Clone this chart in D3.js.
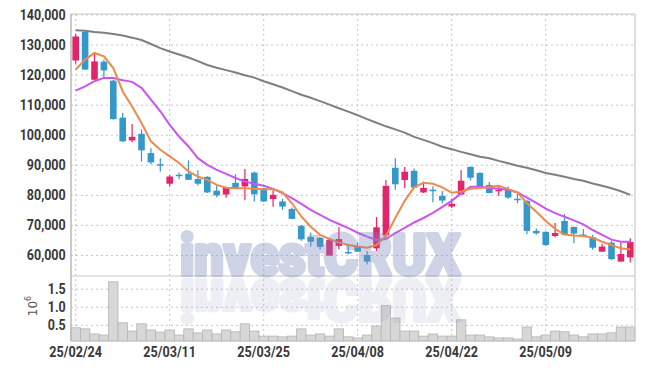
<!DOCTYPE html>
<html>
<head>
<meta charset="utf-8">
<script src="https://cdn.jsdelivr.net/npm/d3@7.9.0/dist/d3.min.js"></script>
<style>
  html, body { margin: 0; padding: 0; background: #fff; }
  svg { display: block; }
  .axis text { font-family: "Roboto", sans-serif; font-weight: bold; fill: #383838; }
</style>
</head>
<body>
<svg id="chart" width="645" height="370"></svg>
<script>
// trading days shown on the chart
const dates = [
  "25/02/24","25/02/25","25/02/26","25/02/27","25/02/28","25/03/04","25/03/05","25/03/06","25/03/07","25/03/10",
  "25/03/11","25/03/12","25/03/13","25/03/14","25/03/17","25/03/18","25/03/19","25/03/20","25/03/21","25/03/24",
  "25/03/25","25/03/26","25/03/27","25/03/28","25/03/31","25/04/01","25/04/02","25/04/03","25/04/04","25/04/07",
  "25/04/08","25/04/09","25/04/10","25/04/11","25/04/14","25/04/15","25/04/16","25/04/17","25/04/18","25/04/21",
  "25/04/22","25/04/23","25/04/24","25/04/25","25/04/28","25/04/29","25/04/30","25/05/02","25/05/07","25/05/08",
  "25/05/09","25/05/12","25/05/13","25/05/14","25/05/15","25/05/16","25/05/19","25/05/20","25/05/21","25/05/22"
];
const tickDates = ["25/02/24","25/03/11","25/03/25","25/04/08","25/04/22","25/05/09"];

const opens = [124700,134200,118300,124300,118000,105700,98100,100300,93900,90200,
  83700,86700,87000,85300,86000,81400,80100,84000,82800,87400,
  82200,78600,77800,75300,69700,66000,65700,59800,63000,61000,
  62900,60000,62200,66500,89000,84900,88000,80800,81700,79700,
  76100,80100,89300,87300,83300,81200,81900,78700,78000,68000,
  67700,66300,71300,69300,66800,65900,61100,64100,57800,59200];
const highs = [133600,134500,127200,125000,118300,107200,103600,101800,95500,92200,
  86500,87400,91500,88200,86200,83300,82700,86900,88600,87800,
  82400,81500,78700,75800,70000,67500,66000,65300,69200,63000,
  64200,61300,72600,84900,92200,89300,88800,84400,82800,81300,
  78700,88200,89500,87500,84300,83200,82800,80200,78200,68800,
  67800,70600,73600,69500,68600,66700,63700,64800,64100,65600];
const lows = [123600,121500,118200,118800,105000,97600,97500,91100,90200,87800,
  82800,85200,84900,83000,80600,79200,79000,82000,78200,77800,
  77600,76000,75000,71900,64700,62800,61800,59700,61900,60200,
  61000,56800,61300,66300,81700,82300,82300,80600,77500,77200,
  75600,80000,84800,82700,80500,79700,78600,77200,66900,66700,
  63000,65900,66600,63900,65900,61700,61000,58300,57700,57500];
const closes = [132700,121700,124400,121400,105200,97800,99300,94800,90800,89700,
  86100,86200,85000,83700,80800,79800,82300,82100,85300,80200,
  77800,80000,76100,72000,65200,64400,62700,65000,65300,60700,
  61100,57800,69200,83000,83500,87700,82400,82300,81200,78100,
  77000,84700,85700,82800,80600,81700,79100,78400,68000,67200,
  63300,67300,66700,67100,66600,62400,62800,58600,60300,64300];
const volumes = [420000,390000,250000,220000,1690000,560000,330000,530000,360000,300000,
  360000,220000,390000,280000,360000,250000,360000,310000,530000,330000,
  190000,190000,170000,190000,390000,220000,250000,190000,390000,170000,
  140000,220000,470000,1030000,690000,330000,330000,190000,250000,190000,
  190000,640000,220000,220000,170000,140000,140000,110000,440000,170000,
  220000,330000,310000,220000,170000,250000,250000,280000,440000,440000];

// moving averages
const ma5 = [121700,125000,127200,126100,122200,114400,109400,103900,97800,95000,
  92800,90600,87800,86100,85000,83300,82400,82200,82200,82000,
  81900,81900,80800,77200,72800,69400,66700,65300,64100,63300,
  62800,62400,63300,66300,72300,78000,82500,84000,83700,82500,
  80700,81100,82000,82300,82600,83000,81900,80800,77200,74400,
  71300,68700,66800,66500,66300,65700,64400,63300,62200,61800];
const ma10 = [114700,116100,117800,118900,118900,118100,117600,115600,111700,107800,
  103300,99400,96100,92200,90000,88300,87000,85600,84400,83700,
  83000,82000,80600,78900,77000,75000,73300,71700,70300,68900,
  67400,66100,65000,65300,67300,69000,70800,72300,74000,76000,
  78000,80500,82700,82700,82300,82000,81700,80800,79100,77300,
  75400,73900,72700,71500,70200,68300,66700,65100,64400,64400];
const maLong = [134800,134600,134200,133900,133500,133000,132300,131500,130200,128800,
  127700,126700,125700,124500,123200,122300,121500,120700,119800,119000,
  117800,116800,115700,114500,113300,112300,111200,110000,108800,107700,
  106500,105200,104000,102800,101800,100700,99300,98300,97200,96000,
  95200,94300,93500,92700,92200,91300,90500,89700,89000,88200,
  87300,86700,86000,85300,84700,83800,83000,82200,81200,80000];

const priceTicks = [60000,70000,80000,90000,100000,110000,120000,130000,140000];
const volumeTicks = [500000,1000000,1500000];

const left = 71, right = 635;
const priceTop = 14, priceBottom = 276, volBottom = 341;
const upColor = "#e5236b", downColor = "#3498cb";
const gridColor = "#c4c4d6";

const svg = d3.select("#chart");

const x = d3.scaleBand().domain(dates).range([left, right]).padding(0);
const cx = i => x(dates[i]) + x.bandwidth() / 2;
const y = d3.scaleLinear().domain([53000, 140170]).range([priceBottom, priceTop]);
const yv = d3.scaleLinear().domain([55000, 1850000]).range([volBottom, priceBottom]);

// price grid + labels
const yAxis = svg.append("g").attr("class", "axis")
  .attr("transform", `translate(${left},0)`)
  .call(d3.axisLeft(y).tickValues(priceTicks).tickSize(-(right - left)).tickPadding(6)
    .tickFormat(d3.format(",")));
yAxis.select(".domain").remove();
yAxis.selectAll("line").attr("stroke", gridColor).attr("stroke-dasharray", "2,3");
yAxis.selectAll("text").attr("font-size", 14).attr("transform", "scale(0.89,1)");

// volume grid + labels
const vAxis = svg.append("g").attr("class", "axis")
  .attr("transform", `translate(${left},0)`)
  .call(d3.axisLeft(yv).tickValues(volumeTicks).tickSize(-(right - left)).tickPadding(6)
    .tickFormat(d => (d / 1e6).toFixed(1)));
vAxis.select(".domain").remove();
vAxis.selectAll("line").attr("stroke", gridColor).attr("stroke-dasharray", "2,3");
vAxis.selectAll("text").attr("font-size", 14).attr("transform", "scale(0.89,1)");

// date axis with vertical grid
const xAxis = svg.append("g").attr("class", "axis")
  .attr("transform", `translate(0,${volBottom})`)
  .call(d3.axisBottom(x).tickValues(tickDates).tickSize(-(volBottom - priceTop)).tickPadding(5));
xAxis.select(".domain").remove();
xAxis.selectAll("line").attr("stroke", gridColor).attr("stroke-dasharray", "2,3");
xAxis.selectAll("text").attr("font-size", 15).attr("transform", "scale(0.84,1)");

// 10^6 unit label
const unit = svg.append("text")
  .attr("transform", "translate(37,306) rotate(-90)")
  .attr("text-anchor", "middle")
  .attr("font-family", "DejaVu Sans, sans-serif")
  .attr("font-size", 12)
  .attr("fill", "#555");
unit.append("tspan").text("10");
unit.append("tspan").attr("font-size", 8).attr("dy", -6).text("6");

// volume bars
svg.append("g").selectAll("rect")
  .data(volumes)
  .join("rect")
  .attr("x", (d, i) => x(dates[i]))
  .attr("width", x.bandwidth())
  .attr("y", d => yv(d))
  .attr("height", d => volBottom - yv(d))
  .attr("fill", "#d7d7d7")
  .attr("stroke", "#b5b5b5")
  .attr("stroke-width", 0.8);

// frame
const frame = svg.append("g").attr("stroke", "#c8c8c8").attr("stroke-width", 1.2);
frame.append("line").attr("x1", left).attr("x2", right).attr("y1", priceTop).attr("y2", priceTop);
frame.append("line").attr("x1", left).attr("x2", right).attr("y1", priceBottom).attr("y2", priceBottom);
frame.append("line").attr("x1", left).attr("x2", right).attr("y1", volBottom).attr("y2", volBottom);
frame.append("line").attr("x1", right).attr("x2", right).attr("y1", priceTop).attr("y2", volBottom);
frame.append("line").attr("x1", left).attr("x2", left).attr("y1", priceTop).attr("y2", volBottom)
  .attr("stroke", "#b8b8b8").attr("stroke-width", 1.5);

// candles
const bodyW = x.bandwidth() * 0.7;
const candles = svg.append("g").selectAll("g")
  .data(dates.map((d, i) => i))
  .join("g")
  .attr("fill", i => closes[i] >= opens[i] ? upColor : downColor)
  .attr("stroke", i => closes[i] >= opens[i] ? upColor : downColor);
candles.append("line")
  .attr("x1", i => cx(i)).attr("x2", i => cx(i))
  .attr("y1", i => y(highs[i])).attr("y2", i => y(lows[i]))
  .attr("stroke-width", 1.2);
candles.append("rect")
  .attr("x", i => cx(i) - bodyW / 2)
  .attr("width", bodyW)
  .attr("y", i => y(Math.max(opens[i], closes[i])))
  .attr("height", i => Math.max(1.5, Math.abs(y(opens[i]) - y(closes[i]))))
  .attr("stroke", "none");

// moving average lines
const line = d3.line().x((d, i) => cx(i)).y(d => y(d));
svg.append("path").datum(maLong).attr("d", line)
  .attr("fill", "none").attr("stroke", "#7f7f7f").attr("stroke-width", 2);
svg.append("path").datum(ma10).attr("d", line)
  .attr("fill", "none").attr("stroke", "#cc55ee").attr("stroke-width", 2);
svg.append("path").datum(ma5).attr("d", line)
  .attr("fill", "none").attr("stroke", "#ee8a4c").attr("stroke-width", 2);

// watermark with reflection (stroke thickens the glyphs)
const wm = svg.append("g").attr("font-family", "Roboto, sans-serif")
  .attr("font-weight", 900).attr("font-size", 57)
  .attr("stroke", "#7d88bb").attr("stroke-width", 4).attr("stroke-linejoin", "round")
  .attr("fill", "#7d88bb");
wm.append("text").attr("x", 180).attr("y", 275)
  .attr("textLength", 280).attr("lengthAdjust", "spacingAndGlyphs")
  .attr("opacity", 0.36)
  .text("investCRUX");
wm.append("text").attr("x", 180).attr("y", -280)
  .attr("transform", "scale(1,-1)")
  .attr("textLength", 280).attr("lengthAdjust", "spacingAndGlyphs")
  .attr("opacity", 0.13)
  .text("investCRUX");
</script>
</body>
</html>
